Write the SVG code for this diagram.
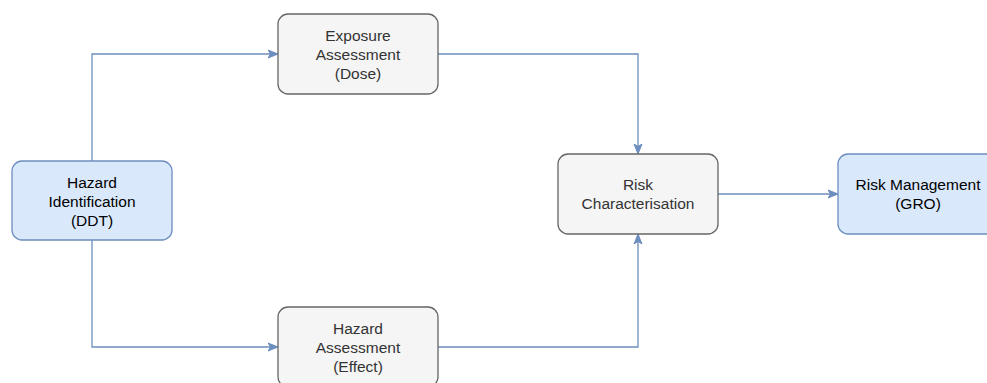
<svg xmlns="http://www.w3.org/2000/svg" width="987" height="383" viewBox="0 0 987 383">
  <style>
    .blue { fill: #dae8fc; stroke: #6c8ebf; stroke-width: 1.3; }
    .grey { fill: #f5f5f5; stroke: #666666; stroke-width: 1.3; }
    .lbl { font-family: "Liberation Sans", Arial, sans-serif; font-size: 15.5px; text-anchor: middle; }
    .dark { fill: #000000; }
    .muted { fill: #333333; }
    .edge { fill: none; stroke: #6c8ebf; stroke-width: 1.3; marker-end: url(#arrow); }
  </style>
  <defs>
    <marker id="arrow" markerWidth="10" markerHeight="10" refX="9" refY="5" orient="auto" markerUnits="userSpaceOnUse">
      <path d="M0,1 L10,5 L0,9 L2.5,5 Z" fill="#6c8ebf" stroke="#6c8ebf" stroke-width="1"/>
    </marker>
  </defs>
  <rect width="987" height="383" fill="#ffffff"/>

  <g id="connectors">
    <path class="edge" d="M92,161 V54 H277"/>
    <path class="edge" d="M92,240 V347 H277"/>
    <path class="edge" d="M438,54 H638 V153"/>
    <path class="edge" d="M438,347 H638 V235"/>
    <path class="edge" d="M718,194 H837"/>
  </g>

  <g id="hazard-identification">
    <rect class="blue" x="12" y="161" width="160" height="79" rx="10"/>
    <text class="lbl dark" x="92"><tspan x="92" y="188">Hazard</tspan><tspan x="92" y="207">Identification</tspan><tspan x="92" y="226">(DDT)</tspan></text>
  </g>

  <g id="exposure-assessment">
    <rect class="grey" x="278" y="14" width="160" height="80" rx="10"/>
    <text class="lbl muted"><tspan x="358" y="41">Exposure</tspan><tspan x="358" y="60">Assessment</tspan><tspan x="358" y="79">(Dose)</tspan></text>
  </g>

  <g id="hazard-assessment">
    <rect class="grey" x="278" y="307" width="160" height="80" rx="10"/>
    <text class="lbl muted"><tspan x="358" y="334">Hazard</tspan><tspan x="358" y="353">Assessment</tspan><tspan x="358" y="372">(Effect)</tspan></text>
  </g>

  <g id="risk-characterisation">
    <rect class="grey" x="558" y="154" width="160" height="80" rx="10"/>
    <text class="lbl muted"><tspan x="638" y="190">Risk</tspan><tspan x="638" y="209">Characterisation</tspan></text>
  </g>

  <g id="risk-management">
    <rect class="blue" x="838" y="154" width="160" height="80" rx="10"/>
    <text class="lbl dark"><tspan x="918" y="190">Risk Management</tspan><tspan x="918" y="209">(GRO)</tspan></text>
  </g>
</svg>
